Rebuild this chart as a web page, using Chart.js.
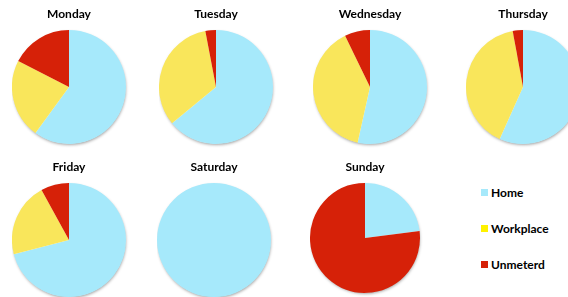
<!DOCTYPE html>
<html>
<head>
<meta charset="utf-8">
<script src="https://cdn.jsdelivr.net/npm/chart.js@4"></script>
<style>
    html, body { margin: 0; padding: 0; background: #fff; }
    body { width: 568px; height: 297px; overflow: hidden; position: relative; font-family: Lato, "Open Sans", sans-serif; }
    .pie-box { position: absolute; }
    .legend { position: absolute; left: 481px; top: 185px; }
    .legend-item { position: absolute; left: 0; white-space: nowrap; font-weight: bold; font-size: 12px; color: #000; }
    .legend-item span.box { display: inline-block; width: 7px; height: 7px; margin-right: 3px; vertical-align: 1px; }
</style>
</head>
<body>
<div id="legend" class="legend"></div>

<script>
// Données : part de chaque lieu par jour (en %)
const days = ['Monday', 'Tuesday', 'Wednesday', 'Thursday', 'Friday', 'Saturday', 'Sunday'];
const categories = ['Home', 'Workplace', 'Unmeterd'];
const homeValues = [60, 64, 53.5, 56.7, 71, 100, 23];
const workplaceValues = [22.5, 33, 39.3, 40.4, 21, 0, 0];
const unmeteredValues = [17.5, 3, 7.2, 2.9, 8, 0, 77];

const sliceColors = ['#A6E9FB', '#F9E65B', '#D62108'];
const legendColors = ['#A6E9FB', '#FFF200', '#D62108'];

// Placement de chaque camembert (centre x, haut du titre, rayon)
const layoutPies = [
    { cx: 69, top: 0, r: 57 },
    { cx: 215.5, top: 0, r: 57 },
    { cx: 370, top: 0, r: 57 },
    { cx: 522.5, top: 0, r: 57 },
    { cx: 69, top: 153, r: 57 },
    { cx: 214, top: 153, r: 57 },
    { cx: 364.5, top: 153, r: 55 }
];

// Ombre légère sous chaque disque
const shadowPlugin = {
    id: 'pieShadow',
    beforeDatasetsDraw(chart) {
        const arc = chart.getDatasetMeta(0).data[0];
        if (!arc) return;
        const ctx = chart.ctx;
        ctx.save();
        ctx.shadowColor = 'rgba(0,0,0,0.35)';
        ctx.shadowBlur = 3;
        ctx.shadowOffsetX = 0.5;
        ctx.shadowOffsetY = 1.5;
        ctx.fillStyle = '#ffffff';
        ctx.beginPath();
        ctx.arc(arc.x, arc.y, arc.outerRadius - 0.5, 0, Math.PI * 2);
        ctx.fill();
        ctx.restore();
    }
};

document.addEventListener('DOMContentLoaded', function() {
    days.forEach((day, i) => createDayPie(day, i));
    buildLegend();
});

function createDayPie(day, i) {
    const pos = layoutPies[i];
    const box = document.createElement('div');
    box.className = 'pie-box';
    box.style.left = (pos.cx - pos.r) + 'px';
    box.style.top = pos.top + 'px';
    box.style.width = (2 * pos.r + 4) + 'px';
    box.style.height = (30 + 2 * pos.r + 4) + 'px';
    const canvas = document.createElement('canvas');
    box.appendChild(canvas);
    document.body.appendChild(box);

    new Chart(canvas.getContext('2d'), {
        type: 'pie',
        data: {
            labels: categories,
            datasets: [{
                data: [homeValues[i], workplaceValues[i], unmeteredValues[i]],
                backgroundColor: sliceColors,
                borderWidth: 0,
                hoverOffset: 0
            }]
        },
        options: {
            responsive: true,
            maintainAspectRatio: false,
            animation: false,
            layout: { padding: { left: 0, right: 4, top: 0, bottom: 4 } },
            plugins: {
                legend: { display: false },
                tooltip: { enabled: false },
                title: {
                    display: true,
                    text: day,
                    color: '#000',
                    font: { family: 'Lato', size: 12, weight: 'bold' },
                    padding: { top: 7, bottom: 8.6 }
                }
            }
        },
        plugins: [shadowPlugin]
    });
}

function buildLegend() {
    const legend = document.getElementById('legend');
    const offsets = [0, 36, 72];
    categories.forEach((cat, k) => {
        const item = document.createElement('div');
        item.className = 'legend-item';
        item.style.top = offsets[k] + 'px';
        item.innerHTML = '<span class="box" style="background:' + legendColors[k] + '"></span>' + cat;
        legend.appendChild(item);
    });
}
</script>
</body>
</html>
